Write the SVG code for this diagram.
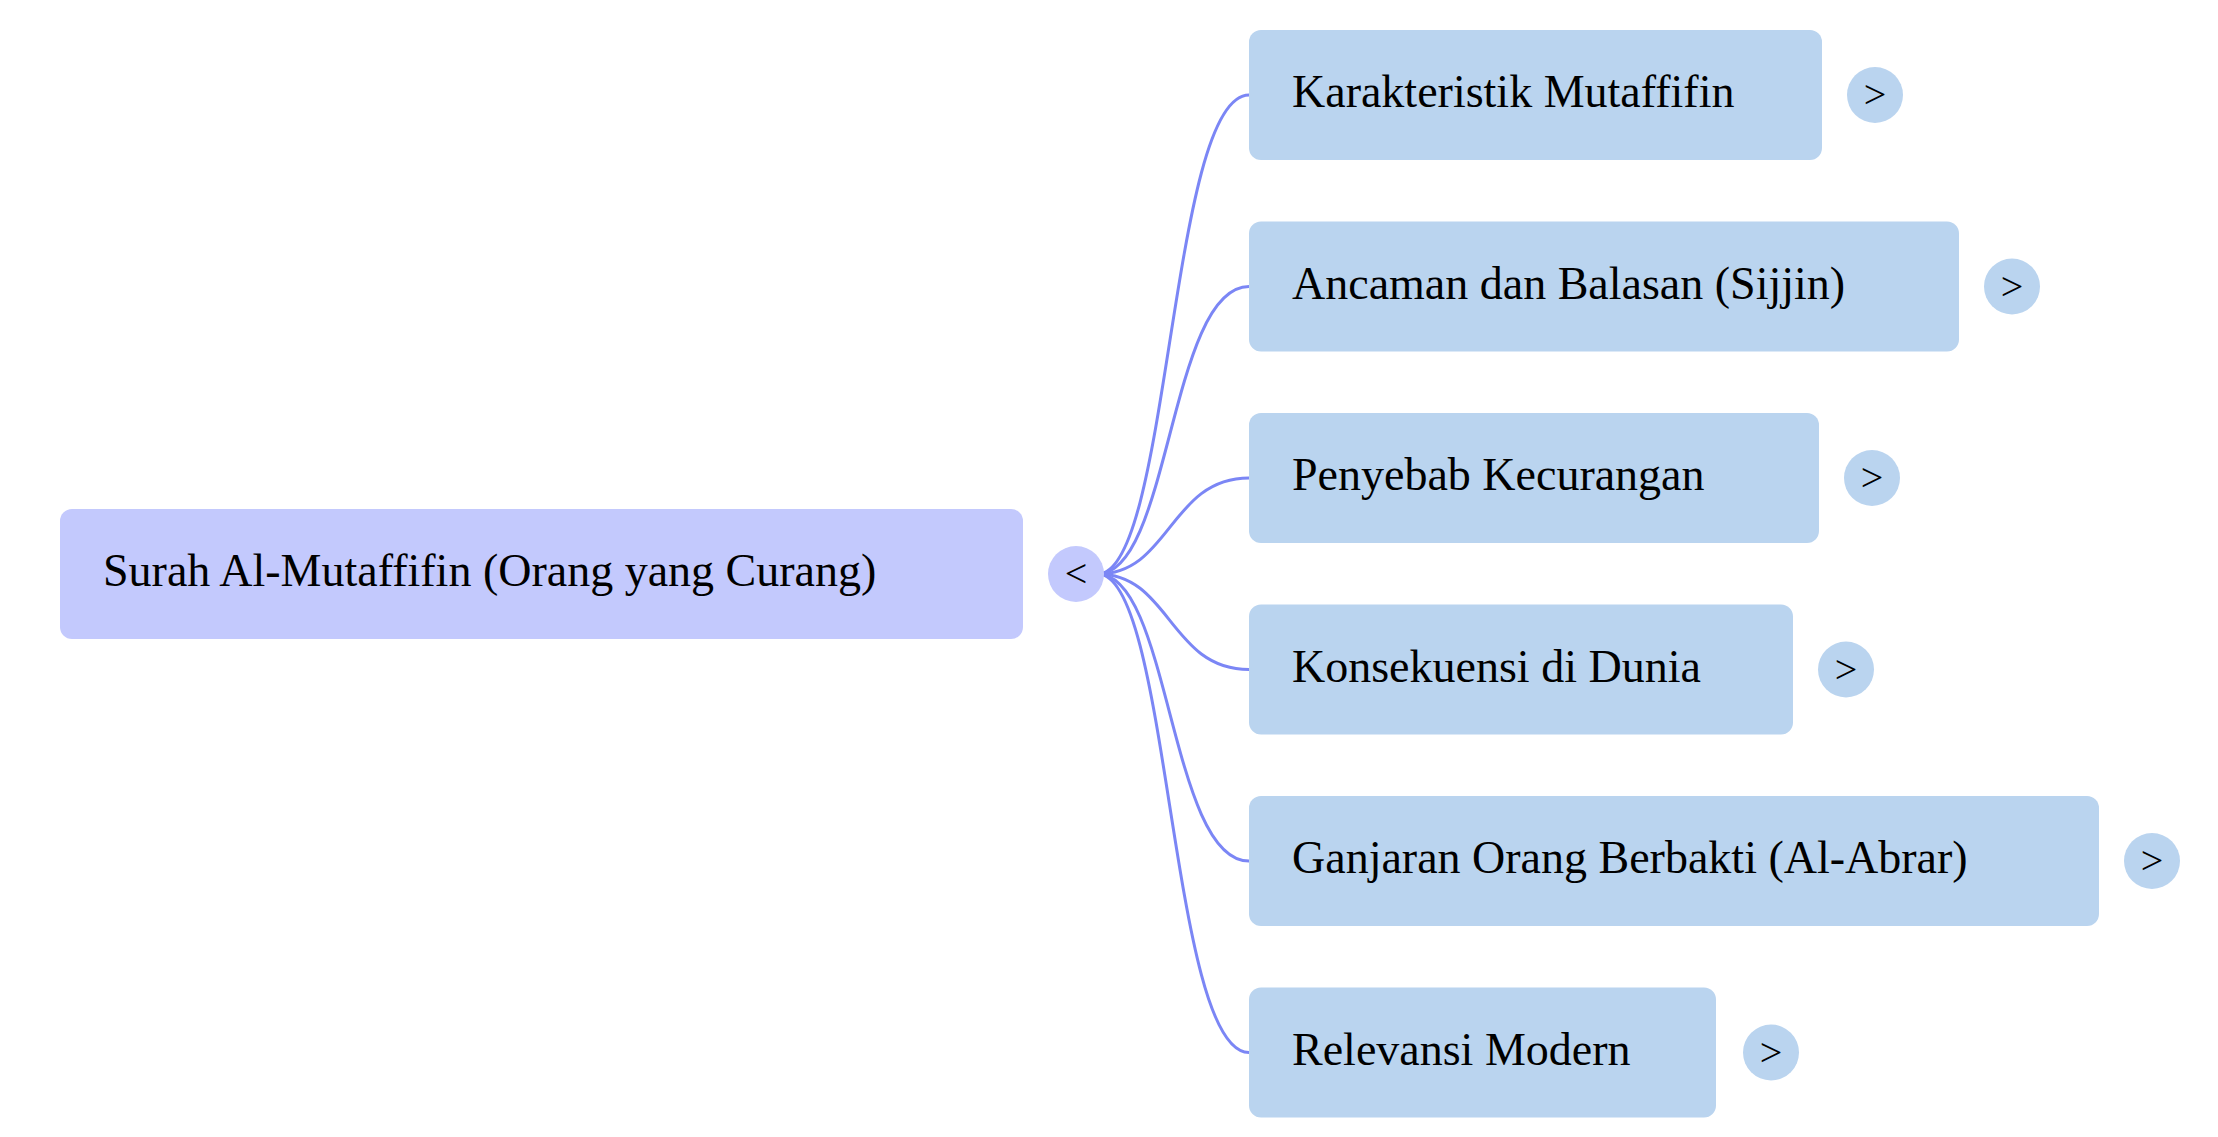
<svg xmlns="http://www.w3.org/2000/svg" width="2218" height="1137" viewBox="0 0 2218 1137">
<style>
text{font-family:"Liberation Serif","Times New Roman",serif;font-size:46px;fill:#000}
.root{fill:#c3c9fd}
.child{fill:#bad4ef}
.c path{fill:none;stroke:#7b86f5;stroke-width:3}
.tg{font-size:40px;text-anchor:middle}
</style>
<rect width="2218" height="1137" fill="#fff"/>
<g class="c" id="connectors">
<path d="M1098 574 C1170 574 1170 95 1249 95"/>
<path d="M1098 574 C1170 574 1170 286.5 1249 286.5"/>
<path d="M1098 574 C1170 574 1170 478 1249 478"/>
<path d="M1098 574 C1170 574 1170 669.5 1249 669.5"/>
<path d="M1098 574 C1170 574 1170 861 1249 861"/>
<path d="M1098 574 C1170 574 1170 1052.5 1249 1052.5"/>
</g>
<g id="root">
<rect class="root" x="60" y="509" width="963" height="130" rx="12"/>
<text x="103" y="586">Surah Al-Mutaffifin (Orang yang Curang)</text>
<circle class="root" cx="1076" cy="574" r="28"/>
<text class="tg" x="1076" y="587">&lt;</text>
</g>
<g id="n1">
<rect class="child" x="1249" y="30" width="573" height="130" rx="12"/>
<text x="1292" y="107">Karakteristik Mutaffifin</text>
<circle class="child" cx="1875" cy="95" r="28"/>
<text class="tg" x="1875" y="108">&gt;</text>
</g>
<g id="n2">
<rect class="child" x="1249" y="221.5" width="710" height="130" rx="12"/>
<text x="1292" y="298.5">Ancaman dan Balasan (Sijjin)</text>
<circle class="child" cx="2012" cy="286.5" r="28"/>
<text class="tg" x="2012" y="299.5">&gt;</text>
</g>
<g id="n3">
<rect class="child" x="1249" y="413" width="570" height="130" rx="12"/>
<text x="1292" y="490">Penyebab Kecurangan</text>
<circle class="child" cx="1872" cy="478" r="28"/>
<text class="tg" x="1872" y="491">&gt;</text>
</g>
<g id="n4">
<rect class="child" x="1249" y="604.5" width="544" height="130" rx="12"/>
<text x="1292" y="681.5">Konsekuensi di Dunia</text>
<circle class="child" cx="1846" cy="669.5" r="28"/>
<text class="tg" x="1846" y="682.5">&gt;</text>
</g>
<g id="n5">
<rect class="child" x="1249" y="796" width="850" height="130" rx="12"/>
<text x="1292" y="873">Ganjaran Orang Berbakti (Al-Abrar)</text>
<circle class="child" cx="2152" cy="861" r="28"/>
<text class="tg" x="2152" y="874">&gt;</text>
</g>
<g id="n6">
<rect class="child" x="1249" y="987.5" width="467" height="130" rx="12"/>
<text x="1292" y="1064.5">Relevansi Modern</text>
<circle class="child" cx="1771" cy="1052.5" r="28"/>
<text class="tg" x="1771" y="1065.5">&gt;</text>
</g>
</svg>
